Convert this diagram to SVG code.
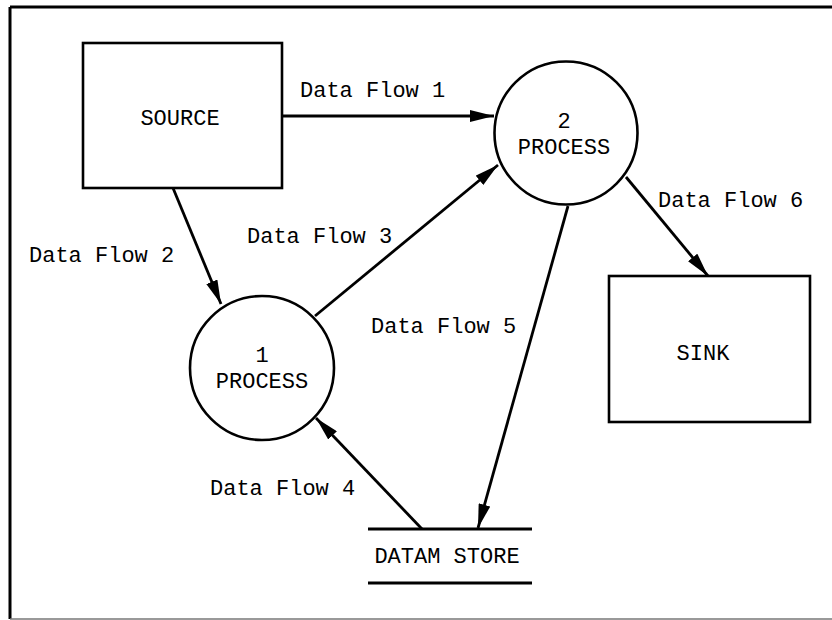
<svg xmlns="http://www.w3.org/2000/svg" width="832" height="620" viewBox="0 0 832 620">
  <style>
    .box { fill: #fff; stroke: #000; stroke-width: 2.6; }
    .proc { fill: #fff; stroke: #000; stroke-width: 2.6; }
    .plain { fill: none; stroke: #000; stroke-width: 2.8; }
    text { font-family: "Liberation Mono", "Courier New", monospace; font-size: 22px; fill: #000; }
    .c { text-anchor: middle; }
  </style>
  <defs>
    <marker id="arrow" viewBox="0 0 24 12" refX="24" refY="6" markerWidth="24" markerHeight="12" markerUnits="userSpaceOnUse" orient="auto">
      <path d="M0,0 L24,6 L0,12 Z" fill="#000"/>
    </marker>
  </defs>

  <rect width="832" height="620" fill="#fff"/>

  <!-- page frame -->
  <g id="frame">
    <line x1="10" y1="7" x2="832" y2="7" stroke="#000" stroke-width="3"/>
    <line x1="10" y1="7" x2="10" y2="619" stroke="#000" stroke-width="3"/>
    <line x1="10" y1="619" x2="832" y2="619" stroke="#777" stroke-width="1.5"/>
  </g>

  <!-- connectors -->
  <g id="connectors">
    <line x1="283" y1="116" x2="494" y2="116" class="plain" marker-end="url(#arrow)"/>
    <line x1="173" y1="188" x2="221" y2="304" class="plain" marker-end="url(#arrow)"/>
    <line x1="315" y1="316" x2="498" y2="165" class="plain" marker-end="url(#arrow)"/>
    <line x1="422" y1="529" x2="316" y2="418" class="plain" marker-end="url(#arrow)"/>
    <line x1="568" y1="206" x2="478" y2="528" class="plain" marker-end="url(#arrow)"/>
    <line x1="626" y1="177" x2="708" y2="276" class="plain" marker-end="url(#arrow)"/>
  </g>

  <!-- flow labels -->
  <g id="labels">
    <text x="300" y="97">Data Flow 1</text>
    <text x="29" y="262">Data Flow 2</text>
    <text x="247" y="243">Data Flow 3</text>
    <text x="210" y="495">Data Flow 4</text>
    <text x="371" y="333">Data Flow 5</text>
    <text x="658" y="207">Data Flow 6</text>
  </g>

  <g id="source">
    <rect x="83" y="43" width="199" height="145" class="box"/>
    <text x="180" y="125" class="c">SOURCE</text>
  </g>

  <g id="process2">
    <circle cx="566" cy="133" r="71.5" class="proc"/>
    <text x="564" y="128" class="c">2</text>
    <text x="564" y="154" class="c">PROCESS</text>
  </g>

  <g id="process1">
    <circle cx="262" cy="368" r="72" class="proc"/>
    <text x="262" y="362" class="c">1</text>
    <text x="262" y="388" class="c">PROCESS</text>
  </g>

  <g id="sink">
    <rect x="609" y="276" width="201" height="146" class="box"/>
    <text x="703" y="360" class="c">SINK</text>
  </g>

  <g id="datastore">
    <line x1="368" y1="529" x2="532" y2="529" class="plain"/>
    <line x1="368" y1="583" x2="532" y2="583" class="plain"/>
    <text x="447" y="563" class="c">DATAM STORE</text>
  </g>
</svg>
